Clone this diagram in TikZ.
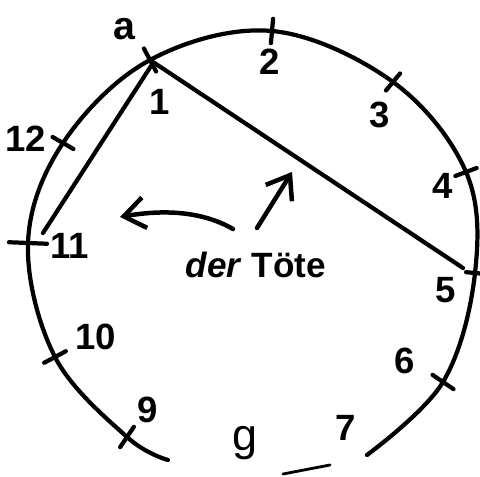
\documentclass[tikz,border=0pt]{standalone}
\usepackage{fontspec}
\setmainfont{Liberation Sans}
\usetikzlibrary{calc,arrows.meta}

\tikzset{
  pencil/.style={line width=3pt, line cap=round, line join=round},
  notch/.style={line width=3pt, line cap=round},
  num/.style={font=\fontsize{26}{26}\selectfont\bfseries, inner sep=0pt},
  pfeil/.style={line width=3.2pt, line cap=round, -{Straight Barb[length=15pt,width=22pt]}},
}

\begin{document}
\begin{tikzpicture}[x=0.025cm,y=-0.025cm]
\useasboundingbox (0,0) rectangle (480,477);
% points on the circle
\coordinate (m) at (252,252);
\coordinate (p1) at (150,60);
\coordinate (p2) at (272,31);
\coordinate (p3) at (393,82);
\coordinate (p4) at (466,172);
\coordinate (p5) at (475,273);
\coordinate (p6) at (443,382);
\coordinate (p9) at (127,437);
\coordinate (p10) at (55,357);
\coordinate (p11) at (28,243);
\coordinate (p12) at (63,143);
\coordinate (e7) at (367,455);
\coordinate (e9) at (168,460);
% the open circle
\draw[pencil] plot[smooth,tension=0.6] coordinates {(e7) (p6) (p5) (p4) (p3) (p2) (p1) (p12) (p11) (p10) (p9) (e9)};
\foreach \p/\f in {p1/0.06,p2/0.055,p3/0.05,p4/0.05,p5/0.04,p6/0.055,p9/0.055,p10/0.055,p11/0.085,p12/0.055}
  \draw[notch] ($(m)!1-\f!(\p)$) -- ($(m)!1+\f!(\p)$);
% chords
\coordinate (c1) at (151,66);
\coordinate (c5) at (463,268);
\coordinate (c11) at (43,233);
\draw[pencil] (p1) -- (c5);
\draw[pencil] (c1) -- (c11);
\coordinate (d1) at (283,474);
\coordinate (d2) at (330,465);
\draw[pencil,line width=2pt] (d1) -- (d2);
% arrows
\coordinate (t1) at (257,228);
\coordinate (h1) at (292,172);
\draw[pfeil] (t1) -- (h1);
\coordinate (t2) at (233,229);
\coordinate (h2) at (120,217);
\draw[pfeil] (t2) .. controls (200,210) and (160,210) .. (h2);
% labels
\node[font=\fontsize{28}{28}\selectfont\bfseries, inner sep=0pt] (la) at (124,29) {a};
\node[num] (n1) at (160,102) {1};
\node[num] (n2) at (270,62) {2};
\node[num] (n3) at (380,115) {3};
\node[num] (n4) at (443,186) {4};
\node[num] (n5) at (446,290) {5};
\node[num] (n6) at (405,361) {6};
\node[num] (n7) at (346,428) {7};
\node[num] (n9) at (148,410) {9};
\node[num] (n10) at (96,337) {10};
\node[num] (n11) at (70,246) {11};
\node[num] (n12) at (26,139) {12};
\node[anchor=base, font=\fontsize{25}{25}\selectfont\bfseries, inner sep=0pt] (tote) at (256,278) {\textit{der} Töte};
\node[anchor=base, font=\fontsize{32}{32}\selectfont, inner sep=0pt] (lg) at (245,451) {g};
\end{tikzpicture}
\end{document}
